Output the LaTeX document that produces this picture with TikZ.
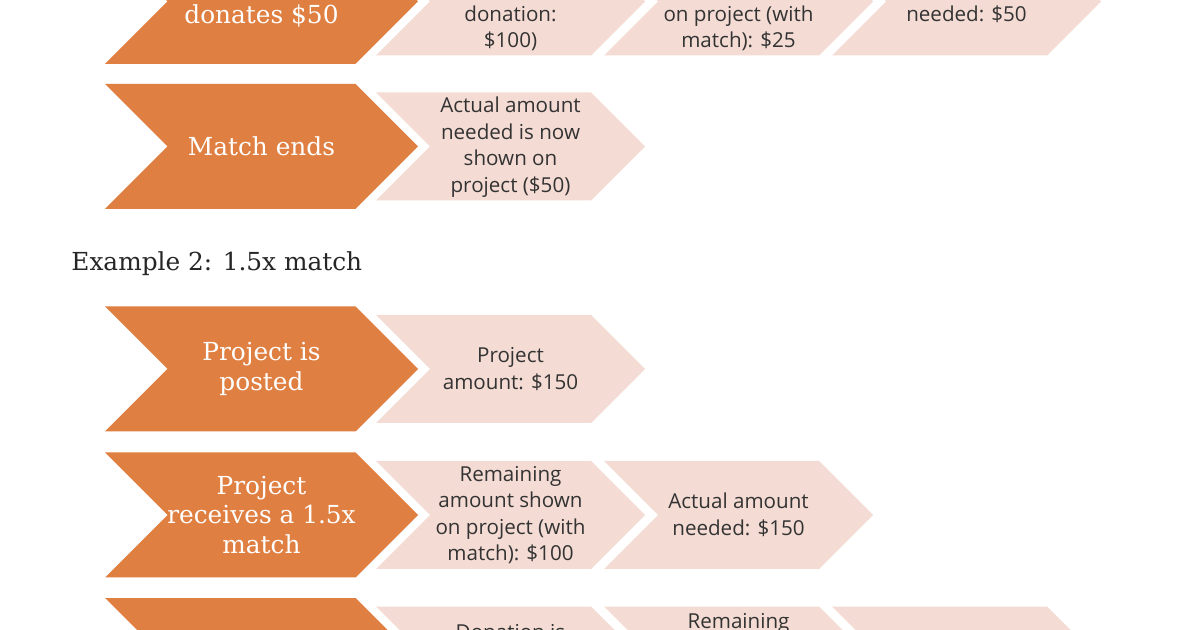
\documentclass[tikz,border=0pt]{standalone}
\usepackage{fontspec}
\setmainfont{DejaVu Serif}
\newfontfamily\lightfont{Open Sans}
\definecolor{darkor}{HTML}{DF7F42}
\definecolor{lightor}{HTML}{F4DCD4}
\definecolor{txtgray}{HTML}{333333}
\definecolor{titlecol}{HTML}{262626}
\newcommand{\drawchev}[5]{%
  \fill[#5] (#1,#2-#4) -- (#1+#3-#4,#2-#4) -- (#1+#3,#2) -- (#1+#3-#4,#2+#4) -- (#1,#2+#4) -- (#1+#4,#2) -- cycle;}
\tikzset{
  dtext/.style={text=white, font=\fontsize{12.4}{14.75}\selectfont, align=center, inner sep=0pt},
  ltext/.style={text=txtgray, font=\lightfont\fontsize{10.3}{13.25}\selectfont, align=center, inner sep=0pt},
  darkchev/.style={fill=darkor},
  lightchev/.style={fill=lightor},
}
\begin{document}
\begin{tikzpicture}[x=0.5pt,y=-0.5pt]
\useasboundingbox (0,0) rectangle (1200,630);
\clip (0,0) rectangle (1200,630);
\fill[white] (0,0) rectangle (1200,630);
% row 1 (cut at top)
\drawchev{105}{1.5}{313}{62.5}{darkchev}
\drawchev{376}{1.5}{269}{54}{lightchev}
\drawchev{604}{1.5}{269}{54}{lightchev}
\drawchev{832}{1.5}{269}{54}{lightchev}
\node[dtext, anchor=base] (d1) at (261.5,24) {donates \$50};
\node[ltext, anchor=base] (l1a) at (510.5,21.5) {donation:};
\node[ltext, anchor=base] (l1b) at (510.5,47.5) {\$100)};
\node[ltext, anchor=base] (l2a) at (738.5,21.5) {on project (with};
\node[ltext, anchor=base] (l2b) at (738.5,47.5) {match): \$25};
\node[ltext, anchor=base] (l3a) at (966.5,21.5) {needed: \$50};
% row 2
\drawchev{105}{146.5}{313}{62.5}{darkchev}
\drawchev{376}{146.5}{269}{54}{lightchev}
\node[dtext] (d2) at (261.5,146.5) {Match ends};
\node[ltext] (m1) at (510.5,147) {Actual amount\\needed is now\\shown on\\project (\$50)};
% title
\node[anchor=base west, text=titlecol, font=\fontsize{12.4}{14.75}\selectfont, inner sep=0pt] (title) at (71,270.5) {Example 2: 1.5x match};
% row 3
\drawchev{105}{369}{313}{62.5}{darkchev}
\drawchev{376}{369}{269}{54}{lightchev}
\node[dtext] (d3) at (261.5,369) {Project is\\posted};
\node[ltext] (p1) at (510.5,369) {Project\\amount: \$150};
% row 4
\drawchev{105}{515}{313}{62.5}{darkchev}
\drawchev{376}{515}{269}{54}{lightchev}
\drawchev{604}{515}{269}{54}{lightchev}
\node[dtext] (d4) at (261.5,515) {Project\\receives a 1.5x\\match};
\node[ltext] (r1) at (510.5,515) {Remaining\\amount shown\\on project (with\\match): \$100};
\node[ltext] (r2) at (738.5,515) {Actual amount\\needed: \$150};
% row 5 (cut at bottom)
\drawchev{105}{660.5}{313}{62.5}{darkchev}
\drawchev{376}{660.5}{269}{54}{lightchev}
\drawchev{604}{660.5}{269}{54}{lightchev}
\drawchev{832}{660.5}{269}{54}{lightchev}
\node[ltext, anchor=base] (s1) at (510.5,639.5) {Donation is};
\node[ltext, anchor=base] (s2) at (738.5,628) {Remaining};
\end{tikzpicture}
\end{document}
